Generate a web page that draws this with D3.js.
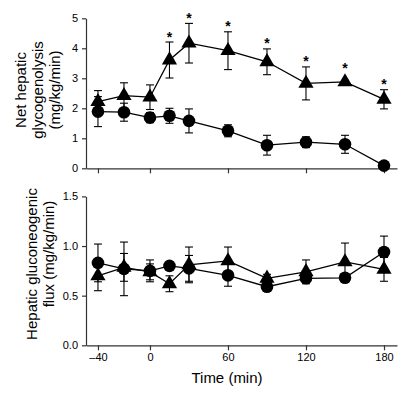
<!DOCTYPE html>
<html><head><meta charset="utf-8">
<script src="https://cdn.jsdelivr.net/npm/d3@7"></script>
<style>
html,body{margin:0;padding:0;background:#fff;}
text{font-family:"Liberation Sans",Arial,Helvetica,sans-serif;fill:#000;}
</style></head>
<body><svg id="c" width="413" height="404"></svg>
<script>
const times = [-40,-20,0,15,30,60,90,120,150,180];
const xTicks = [-40,0,60,120,180];
const xTickLabels = ["–40","0","60","120","180"];

// Top panel: net hepatic glycogenolysis
const glycoCircle = [1.89,1.87,1.69,1.75,1.58,1.25,0.77,0.87,0.80,0.09];
const glycoCircleErr = [0.50,0.30,0.17,0.25,0.40,0.20,0.33,0.18,0.30,0.12];
const glycoTri = [2.22,2.42,2.37,3.61,4.17,3.92,3.55,2.83,2.88,2.30];
const glycoTriErr = [0.37,0.43,0.41,0.60,0.66,0.63,0.43,0.55,0.05,0.32];
const glycoSig = [false,false,false,true,true,true,true,true,true,true];
const topYTicks = [0,1,2,3,4,5];
const topYTickLabels = ["0","1","2","3","4","5"];

// Bottom panel: hepatic gluconeogenic flux
const gluCircle = [0.83,0.77,0.75,0.80,0.775,0.705,0.59,0.675,0.68,0.94];
const gluCircleErr = [0.19,0.27,0.11,0.04,0.13,0.11,0.04,0.04,0.03,0.16];
const gluTri = [0.70,0.785,0.74,0.62,0.81,0.85,0.675,0.74,0.84,0.765];
const gluTriErr = [0.15,0.14,0.08,0.08,0.18,0.14,0.04,0.12,0.19,0.12];
const botYTicks = [0,0.5,1.0,1.5];
const botYTickLabels = ["0.0","0.5","1.0","1.5"];

const svg = d3.select("#c");
const x = d3.scaleLinear().domain([-49.2,190]).range([86,397]);

function panel(opts){
  const g = svg.append("g");
  const y = d3.scaleLinear().domain(opts.yDomain).range(opts.yRange);
  const xa = g.append("g").attr("transform",`translate(0,${opts.yRange[0]})`)
    .call(d3.axisBottom(x).tickValues(xTicks).tickSizeOuter(0).tickSizeInner(5)
      .tickFormat((d,i)=> opts.xLabels ? xTickLabels[i] : ""));
  const ya = g.append("g").attr("transform","translate(86,0)")
    .call(d3.axisLeft(y).tickValues(opts.yTicks).tickSizeOuter(0).tickSizeInner(4)
      .tickFormat((d,i)=>opts.yLabels[i]));
  [xa,ya].forEach(a=>{
    a.selectAll("path,line").attr("stroke","#333").attr("stroke-width",1.2);
    a.selectAll("text").style("font-size","11px").attr("fill","#000");
  });
  ya.selectAll("text").attr("x",-8);
  xa.selectAll("text").attr("y",8);

  const line = d3.line().x((d,i)=>x(times[i])).y(d=>y(d));
  function series(vals, errs, sym){
    g.append("path").datum(vals).attr("d",line).attr("fill","none")
      .attr("stroke","#000").attr("stroke-width",1.3);
    const eb = g.append("g").attr("stroke","#000").attr("stroke-width",1.1);
    vals.forEach((v,i)=>{
      const cx = x(times[i]), y1 = y(v+errs[i]), y2 = y(v-errs[i]);
      eb.append("line").attr("x1",cx).attr("x2",cx).attr("y1",y1).attr("y2",y2);
      eb.append("line").attr("x1",cx-4).attr("x2",cx+4).attr("y1",y1).attr("y2",y1);
      eb.append("line").attr("x1",cx-4).attr("x2",cx+4).attr("y1",y2).attr("y2",y2);
    });
    return ()=>{
      g.append("g").selectAll("path").data(vals).join("path")
        .attr("transform",(d,i)=>`translate(${x(times[i])},${y(d)})`)
        .attr("d",d3.symbol().type(sym).size(sym===d3.symbolCircle?125:100))
        .attr("fill","#000");
    };
  }
  const m1 = series(opts.circle, opts.circleErr, d3.symbolCircle);
  const m2 = series(opts.tri, opts.triErr, d3.symbolTriangle);
  m1(); m2();
  if (opts.sig){
    opts.tri.forEach((v,i)=>{
      if(!opts.sig[i]) return;
      const top = Math.min(y(v+opts.triErr[i]), y(v)-8);
      g.append("text").attr("x",x(times[i])).attr("y",top-0.5)
        .attr("text-anchor","middle").style("font-size","14px").style("font-weight","bold")
        .text("*");
    });
  }
  opts.title.forEach((s,i)=>{
    g.append("text").attr("transform",`translate(${opts.titleX[i]},${opts.titleY[i]}) rotate(-90)`)
      .attr("text-anchor","middle").style("font-size","15px").text(s);
  });
}

panel({yDomain:[0,5], yRange:[168.3,18.3], yTicks:topYTicks, yLabels:topYTickLabels,
  circle:glycoCircle, circleErr:glycoCircleErr, tri:glycoTri, triErr:glycoTriErr, sig:glycoSig,
  xLabels:false, title:["Net hepatic","glycogenolysis","(mg/kg/min)"], titleX:[26,43,60], titleY:[90,90,90]});
panel({yDomain:[0,1.5], yRange:[345.3,196.4], yTicks:botYTicks, yLabels:botYTickLabels,
  circle:gluCircle, circleErr:gluCircleErr, tri:gluTri, triErr:gluTriErr, sig:null,
  xLabels:true, title:["Hepatic gluconeogenic","flux (mg/kg/min)"], titleX:[37,54], titleY:[264,254]});

svg.append("text").attr("x",227).attr("y",383).attr("text-anchor","middle")
  .style("font-size","15px").text("Time (min)");
</script></body></html>
